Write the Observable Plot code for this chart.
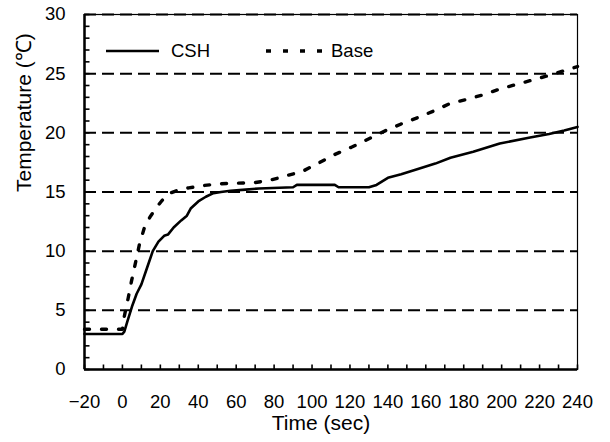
<!DOCTYPE html>
<html><head><meta charset="utf-8">
<script src="https://cdn.jsdelivr.net/npm/d3@7"></script>
<script src="https://cdn.jsdelivr.net/npm/@observablehq/plot@0.6"></script>
<style>
body{margin:0;background:#fff;}
#wrap{position:relative;width:610px;height:442px;}
#legend{position:absolute;left:0;top:0;pointer-events:none;}
svg text{font-family:"Liberation Sans",Arial,sans-serif;}
</style></head>
<body><div id="wrap"></div>
<script>
const cshTime = [-20,0,1,2.5,5,7.5,10,13,16,19,22,24,27,31,34,36,40,44,48,52,57,65,72,90,92,112,114,130,134,140,147,155,165,173,185,199,215,225,233,240];
const cshTemp = [3.0,3.0,3.2,4.0,5.3,6.4,7.2,8.6,10.0,10.8,11.3,11.4,12.0,12.6,13.0,13.6,14.2,14.6,14.9,15.0,15.1,15.2,15.3,15.4,15.6,15.6,15.4,15.4,15.6,16.2,16.5,16.9,17.4,17.9,18.4,19.1,19.6,19.9,20.2,20.5];
const baseTime = [-20,0,1,3,4.7,7,9,12,15,18,21,25,30,35,43,52,61,70,78,87,95,103,111,121,130,139,147,156,165,173,181,190,199,208,217,225,233,240];
const baseTemp = [3.4,3.4,4.5,6.0,7.4,9.1,10.6,12.2,13.0,13.7,14.3,14.9,15.2,15.35,15.55,15.7,15.75,15.8,16.0,16.4,16.75,17.4,18.1,18.8,19.5,20.2,20.75,21.3,21.9,22.5,22.8,23.2,23.7,24.1,24.5,24.85,25.25,25.6];
const xDomain = [-20,240];
const yDomain = [0,30];
const xTickLabels = [-20,0,20,40,60,80,100,120,140,160,180,200,220,240];
const xMinorTicks = d3.range(-20,241,10);
const yTickLabels = [0,5,10,15,20,25,30];
const yMinorTicks = d3.range(0,31,1);
const gridValues = [5,10,15,20,25,30];
const seriesNames = ["CSH","Base"];

const csh = cshTime.map((t,i)=>({t, v:cshTemp[i]}));
const base = baseTime.map((t,i)=>({t, v:baseTemp[i]}));

const W=610,H=442,mL=84,mR=33,mT=14,mB=73;
const innerW=W-mL-mR, innerH=H-mT-mB;
const tickPx=5;
const tickLenY=tickPx*(yDomain[1]-yDomain[0])/innerH;
const tickLenX=tickPx*(xDomain[1]-xDomain[0])/innerW;

const chart = Plot.plot({
  width:W, height:H, marginLeft:mL, marginRight:mR, marginTop:mT, marginBottom:mB,
  style:{fontFamily:"Liberation Sans, Arial, sans-serif", fontSize:"18.5px", color:"#000", background:"#fff"},
  x:{domain:xDomain, axis:null},
  y:{domain:yDomain, axis:null},
  marks:[
    Plot.ruleY(gridValues,{stroke:"#000",strokeWidth:2,strokeDasharray:"12,6"}),
    Plot.frame({stroke:"#000",strokeWidth:1.2}),
    Plot.link(xMinorTicks,{x1:d=>d,x2:d=>d,y1:()=>yDomain[0],y2:()=>yDomain[0]+tickLenY,stroke:"#000",strokeWidth:1.6}),
    Plot.link(yMinorTicks,{y1:d=>d,y2:d=>d,x1:()=>xDomain[0],x2:()=>xDomain[0]+tickLenX,stroke:"#000",strokeWidth:1.6}),
    Plot.ruleX([xDomain[0]],{stroke:"#000",strokeWidth:2.5}),
    Plot.ruleY([yDomain[0]],{stroke:"#000",strokeWidth:2.5}),
    Plot.line(base,{x:"t",y:"v",stroke:"#000",strokeWidth:3.4,strokeDasharray:"5,12"}),
    Plot.line(csh,{x:"t",y:"v",stroke:"#000",strokeWidth:2.6}),
    Plot.axisX(xTickLabels,{anchor:"bottom",tickSize:0,tickPadding:25,label:null,fontSize:18.5}),
    Plot.axisY(yTickLabels,{anchor:"left",tickSize:0,tickPadding:19,label:null,fontSize:18.5}),
    Plot.text(["Time (sec)"],{frameAnchor:"bottom",dx:-10,dy:60,fontSize:21}),
    Plot.text(["Temperature (℃)"],{frameAnchor:"left",dx:-60,rotate:-90,fontSize:21})
  ]
});
document.getElementById("wrap").appendChild(chart);

// legend overlay
const ns="http://www.w3.org/2000/svg";
const lg=document.createElementNS(ns,"svg");
lg.setAttribute("id","legend");lg.setAttribute("width",W);lg.setAttribute("height",100);
const items=[{x1:106,x2:159,tx:171,dash:null,w:2.6},{x1:266,x2:325,tx:331,dash:"5,12",w:3.4}];
items.forEach((it,i)=>{
  const l=document.createElementNS(ns,"line");
  l.setAttribute("x1",it.x1);l.setAttribute("x2",it.x2);l.setAttribute("y1",51);l.setAttribute("y2",51);
  l.setAttribute("stroke","#000");l.setAttribute("stroke-width",it.w);
  if(it.dash) l.setAttribute("stroke-dasharray",it.dash);
  lg.appendChild(l);
  const t=document.createElementNS(ns,"text");
  t.setAttribute("x",it.tx);t.setAttribute("y",51);t.setAttribute("dy","0.35em");
  t.setAttribute("font-size","18.5");t.textContent=seriesNames[i];
  lg.appendChild(t);
});
document.getElementById("wrap").appendChild(lg);
</script></body></html>
